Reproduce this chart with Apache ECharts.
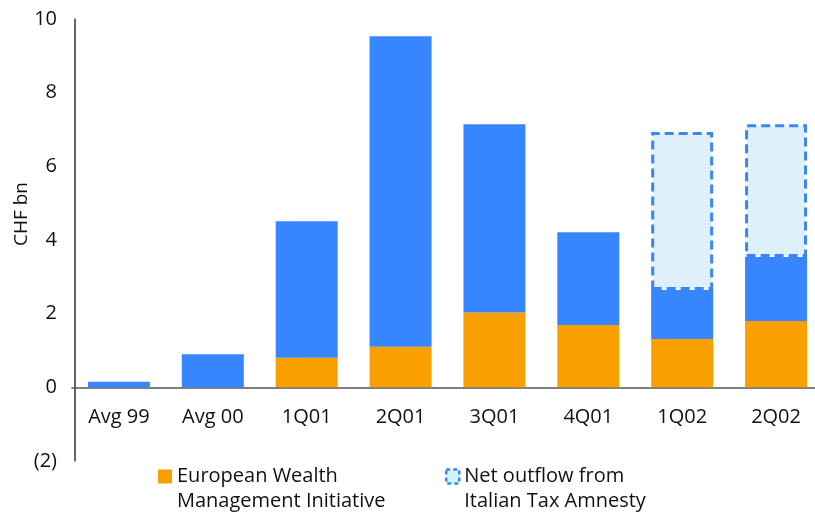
<!DOCTYPE html>
<html>
<head>
<meta charset="utf-8">
<script src="https://cdn.jsdelivr.net/npm/echarts@6/dist/echarts.min.js"></script>
<style>
  html, body { margin: 0; padding: 0; background: #fff; overflow: hidden; width: 815px; height: 515px; }
  /* canvas runs a few pixels past the right edge so the last category's band is full width */
  #chart { width: 823px; height: 515px; }
</style>
</head>
<body>
<div id="chart"></div>
<script>
// Net new money, CHF bn, by period
const categories = ['Avg 99', 'Avg 00', '1Q01', '2Q01', '3Q01', '4Q01', '1Q02', '2Q02'];
// European Wealth Management Initiative (bottom segment)
const ewmiValues = [0, 0, 0.8, 1.1, 2.03, 1.69, 1.31, 1.8];
// Remaining net new money (middle segment)
const otherValues = [0.15, 0.9, 3.71, 8.43, 5.11, 2.52, 1.33, 1.74];
// Net outflow from Italian Tax Amnesty (dashed top segment)
const amnestyValues = [null, null, null, null, null, null, 4.29, 3.6];
const yTicks = { min: -2, max: 10, interval: 2 };

const FONT = '"Open Sans", "Noto Sans", sans-serif';
const ORANGE = '#F9A000';
const BLUE = '#3886FF';
const PALE = '#DEF1FA';
const DASH_BLUE = '#3A86F5';

const GRID = { left: 72, right: 0, top: 19, bottom: 54 };
const plotHeight = 515 - GRID.top - GRID.bottom;
// distance from the bottom of the plot up to the zero line
const zeroLift = plotHeight * (0 - yTicks.min) / (yTicks.max - yTicks.min);

const chart = echarts.init(document.getElementById('chart'), null, { renderer: 'canvas' });

// legend labels get a blank first line so the swatch sits beside the first text line
const legendText = { fontFamily: FONT, fontSize: 20, color: '#111', lineHeight: 25 };
const legendFormatter = name => ' \n' + name;

chart.setOption({
  animation: false,
  grid: Object.assign({ containLabel: false }, GRID),
  xAxis: {
    type: 'category',
    data: categories,
    offset: -zeroLift,
    axisLine: { onZero: false, lineStyle: { color: '#555', width: 1.5 } },
    axisTick: { show: false },
    axisLabel: { fontFamily: FONT, fontSize: 20, color: '#111', margin: 20 },
    splitLine: { show: false }
  },
  yAxis: {
    type: 'value',
    min: yTicks.min,
    max: yTicks.max,
    interval: yTicks.interval,
    offset: -3,
    axisLine: { show: true, lineStyle: { color: '#333', width: 1.5 } },
    axisTick: { show: false },
    splitLine: { show: false },
    axisLabel: {
      fontFamily: FONT, fontSize: 20, color: '#111', margin: 18,
      formatter: v => (v < 0 ? '(' + Math.abs(v) + ')' : String(v))
    }
  },
  legend: [
    {
      left: 153, top: 434,
      itemWidth: 14, itemHeight: 14, icon: 'rect',
      data: [{ name: 'European Wealth\nManagement Initiative' }],
      formatter: legendFormatter,
      textStyle: legendText
    },
    {
      left: 440, top: 434,
      itemWidth: 13, itemHeight: 14, icon: 'rect',
      data: [{
        name: 'Net outflow from\nItalian Tax Amnesty',
        itemStyle: { color: '#CFF4FC', borderColor: DASH_BLUE, borderWidth: 2.5, borderType: [4, 3] }
      }],
      formatter: legendFormatter,
      textStyle: legendText
    }
  ],
  graphic: [{
    type: 'text',
    x: 22, y: 214, rotation: Math.PI / 2,
    style: { text: 'CHF bn', fontFamily: FONT, fontSize: 19, fill: '#111', align: 'center', verticalAlign: 'middle' }
  }],
  series: [
    {
      name: 'European Wealth\nManagement Initiative',
      type: 'bar', stack: 'nnm', barWidth: 62,
      itemStyle: { color: ORANGE },
      data: ewmiValues
    },
    {
      name: 'Other',
      type: 'bar', stack: 'nnm', barWidth: 62,
      itemStyle: { color: BLUE },
      data: otherValues
    },
    {
      name: 'Net outflow from\nItalian Tax Amnesty',
      type: 'bar', stack: 'nnm', barWidth: 62,
      itemStyle: { color: PALE, borderColor: DASH_BLUE, borderWidth: 3, borderType: [9, 5] },
      data: amnestyValues
    }
  ]
});
</script>
</body>
</html>
